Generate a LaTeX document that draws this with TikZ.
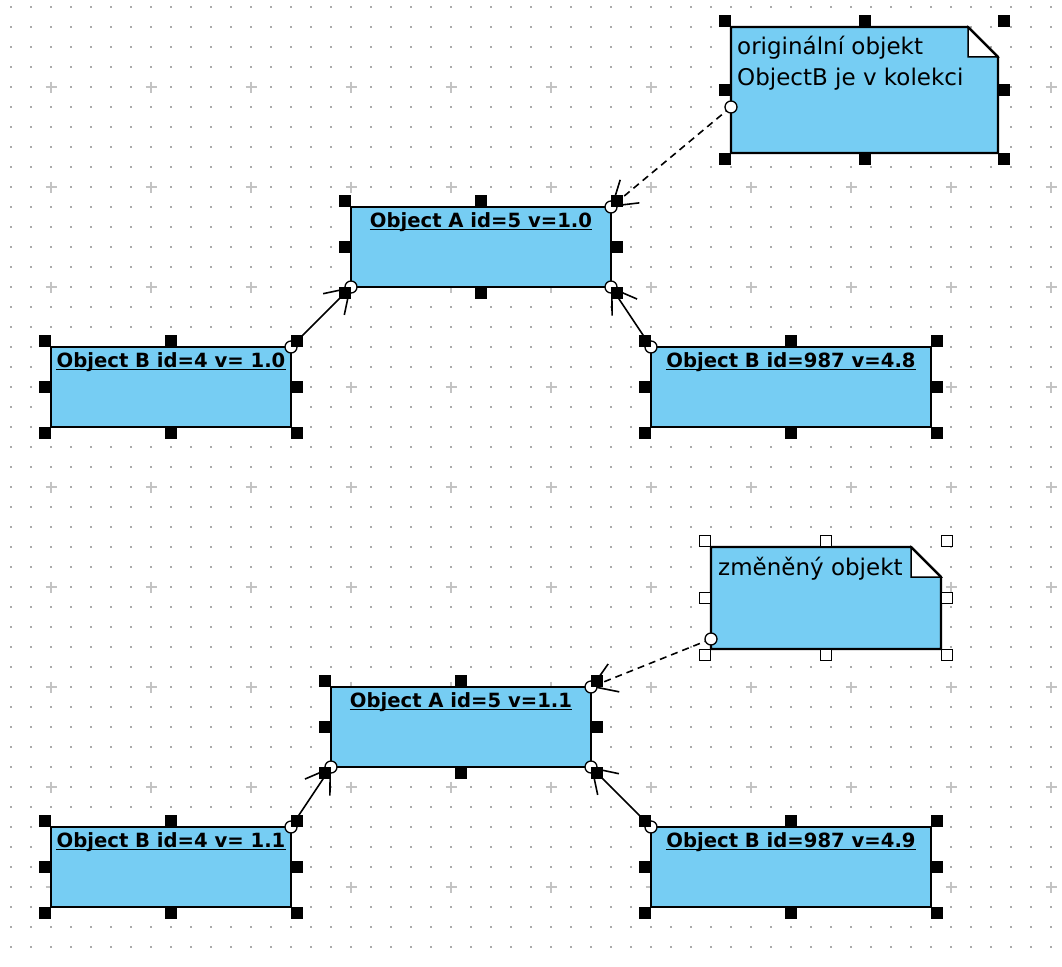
\documentclass[tikz,border=0pt]{standalone}
\usepackage{fontspec}
\setmainfont{DejaVu Sans}
\usetikzlibrary{arrows.meta}
\definecolor{objfill}{RGB}{118,205,243}
\definecolor{dotgray}{RGB}{170,170,170}
\definecolor{crossgray}{RGB}{195,195,195}

% eight selection handles placed just outside a node's border
\newcommand\selhandles[2]{%
  \foreach \an/\dx/\dy [count=\k] in {north west/-1/1, north/0/1, north east/1/1, east/1/0,
      south east/1/-1, south/0/-1, south west/-1/-1, west/-1/0}{
    \node[#2] (#1-h\k) at ([xshift=\dx*6pt,yshift=\dy*6pt]#1.\an) {};
  }}
% note outline with a folded corner
\newcommand\notebody[1]{%
  \draw[line width=2.2pt,fill=objfill] (#1.north west) -- ([xshift=-30pt]#1.north east)
    -- ([yshift=-30pt]#1.north east) -- (#1.south east) -- (#1.south west) -- cycle;
  \draw[line width=1.5pt,fill=white] ([xshift=-30pt]#1.north east)
    |- ([yshift=-30pt]#1.north east) -- cycle;
  \draw[line width=2.2pt] ([xshift=-30pt]#1.north east) -- ([yshift=-30pt]#1.north east);}

\begin{document}
\begin{tikzpicture}[x=1pt,y=-1pt,
  box/.style={rectangle,draw=black,line width=2.2pt,fill=objfill,inner sep=0pt,outer sep=0pt,anchor=north west},
  noteframe/.style={rectangle,inner sep=0pt,outer sep=0pt,anchor=north west},
  title/.style={anchor=base,inner sep=0pt,font=\fontsize{19.6}{23}\selectfont\bfseries},
  notetext/.style={anchor=base west,inner sep=0pt,font=\fontsize{23}{28}\selectfont},
  hblack/.style={rectangle,fill=black,inner sep=0pt,minimum size=12pt},
  hwhite/.style={rectangle,fill=white,draw=black,line width=1.3pt,inner sep=0pt,minimum size=10.5pt},
  link/.style={line width=1.6pt,-{Straight Barb[length=23pt,width=30pt]}},
  dlink/.style={link,dash pattern=on 7pt off 5pt},
  endpt/.style={draw=black,fill=white,line width=1.3pt},
  uline/.style={line width=1.8pt}]

\useasboundingbox[fill=white] (0,0) rectangle (1062,966);

% background grid: dots every 20 px, crosses every 100 px
\foreach \x in {11,31,...,1051}
  \foreach \y in {7,27,...,947}
    \fill[dotgray] (\x-1,\y-1) rectangle ++(2,2);
\foreach \x in {51,151,...,1051}
  \foreach \y in {87,187,...,887}
    \draw[crossgray,line width=1.5pt] (\x-5.5,\y) -- (\x+5.5,\y) (\x,\y-5.5) -- (\x,\y+5.5);

% ---------- original state ----------
\node[noteframe,minimum width=267pt,minimum height=126pt] (n1) at (731,27) {};
\notebody{n1}
\node[notetext] (n1t1) at ([xshift=6pt,yshift=-28pt]n1.north west) {originální objekt};
\node[notetext] (n1t2) at ([xshift=6pt,yshift=-58pt]n1.north west) {ObjectB je v kolekci};
\coordinate (n1p) at (731,107);

\node[box,minimum width=260pt,minimum height=80pt] (a1) at (351,207) {};
\node[box,minimum width=240pt,minimum height=80pt] (b1) at (51,347) {};
\node[box,minimum width=280pt,minimum height=80pt] (c1) at (651,347) {};

\node[title] (a1t) at ([yshift=-20pt]a1.north) {Object A id=5 v=1.0};
\node[title] (b1t) at ([yshift=-20pt]b1.north) {Object B id=4 v= 1.0};
\node[title] (c1t) at ([yshift=-20pt]c1.north) {Object B id=987 v=4.8};
\foreach \t in {a1t,b1t,c1t}
  \draw[uline] ([yshift=-2.5pt]\t.base west) -- ([yshift=-2.5pt]\t.base east);

\draw[link] (b1.north east) -- (a1.south west);
\draw[link] (c1.north west) -- (a1.south east);
\draw[dlink] (n1p) -- (a1.north east);

% ---------- changed state ----------
\node[noteframe,minimum width=230pt,minimum height=102pt] (n2) at (711,547) {};
\notebody{n2}
\node[notetext] (n2t1) at ([xshift=7pt,yshift=-28pt]n2.north west) {změněný objekt};
\coordinate (n2p) at (711,639);

\node[box,minimum width=260pt,minimum height=80pt] (a2) at (331,687) {};
\node[box,minimum width=240pt,minimum height=80pt] (b2) at (51,827) {};
\node[box,minimum width=280pt,minimum height=80pt] (c2) at (651,827) {};

\node[title] (a2t) at ([yshift=-20pt]a2.north) {Object A id=5 v=1.1};
\node[title] (b2t) at ([yshift=-20pt]b2.north) {Object B id=4 v= 1.1};
\node[title] (c2t) at ([yshift=-20pt]c2.north) {Object B id=987 v=4.9};
\foreach \t in {a2t,b2t,c2t}
  \draw[uline] ([yshift=-2.5pt]\t.base west) -- ([yshift=-2.5pt]\t.base east);

\draw[link] (b2.north east) -- (a2.south west);
\draw[link] (c2.north west) -- (a2.south east);
\draw[dlink] (n2p) -- (a2.north east);

% connector end points
\foreach \p in {b1.north east, a1.south west, c1.north west, a1.south east, n1p, a1.north east,
                b2.north east, a2.south west, c2.north west, a2.south east, n2p, a2.north east}
  \draw[endpt] (\p) circle[radius=6];

% selection handles
\foreach \n in {n1,a1,b1,c1,a2,b2,c2}{\selhandles{\n}{hblack}}
\selhandles{n2}{hwhite}

\end{tikzpicture}
\end{document}
